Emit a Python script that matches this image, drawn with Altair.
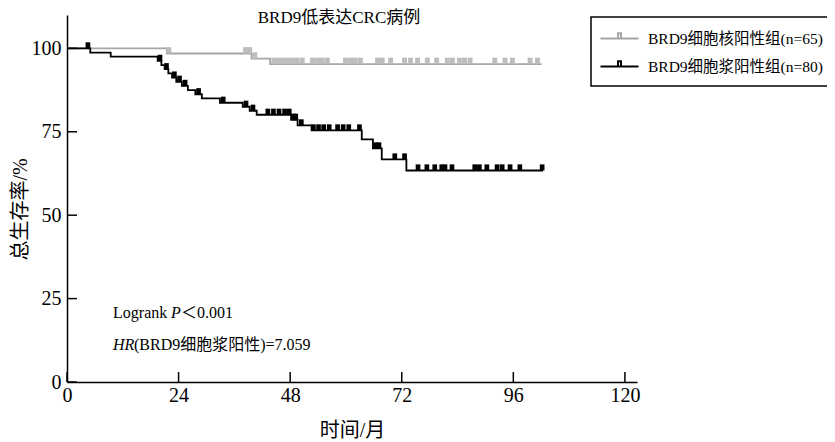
import altair as alt
import pandas as pd

# ---------------- data ----------------
LAB_NUC = "BRD9细胞核阳性组(n=65)"
LAB_CYT = "BRD9细胞浆阳性组(n=80)"

# nuclear-positive group (grey): step curve
nuc_time = [0, 21.5, 39.7, 43.7, 102.1]
nuc_surv = [100, 98.46, 96.92, 95.3, 95.3]
nuc_cens = [21.9, 38.4, 39.3, 40.4, 44.5, 45.5, 46.5, 47.5, 48.5, 49.5, 50.6,
            52.8, 53.9, 54.9, 56.0, 59.9, 61.0, 62.0, 63.1, 66.8, 67.8, 69.6,
            72.6, 73.9, 75.4, 77.5, 79.5, 81.8, 82.9, 84.4, 85.5, 86.7, 92.0,
            94.2, 95.8, 99.6, 101.2]

# cytoplasm-positive group (black): step curve
cyt_time = [0, 5.0, 9.4, 19.5, 20.3, 21.0, 21.8, 22.6, 23.5, 24.7, 26.0, 27.6,
            29.0, 32.9, 37.8, 39.3, 40.8, 48.2, 49.6, 52.6, 63.4, 65.8, 67.7,
            73.0, 102.4]
cyt_surv = [100, 98.75, 97.5, 96.25, 95.0, 93.75, 92.5, 91.25, 90.0, 88.75,
            87.5, 86.25, 85.0, 83.7, 82.5, 81.3, 80.1, 78.6, 76.9, 75.4, 72.7,
            70.0, 66.7, 63.4, 63.4]
cyt_cens = [4.5, 20.0, 21.4, 23.1, 24.2, 25.4, 28.3, 33.6, 38.5, 40.0, 43.2,
            44.4, 45.6, 46.8, 47.8, 48.7, 49.2, 50.4, 53.0, 54.1, 55.2, 56.4,
            58.2, 59.4, 60.6, 62.9, 66.4, 67.1, 70.5, 72.6, 75.5, 77.4, 79.1,
            80.6, 81.3, 82.8, 87.7, 88.7, 90.3, 92.5, 93.6, 95.3, 97.4, 102.2]

x_ticks = [0, 24, 48, 72, 96, 120]
y_ticks = [0, 25, 50, 75, 100]

TITLE = "BRD9低表达CRC病例"
X_TITLE = "时间/月"
Y_TITLE = "总生存率/%"


def surv_at(times, surv, t):
    s = surv[0]
    for ti, si in zip(times, surv):
        if ti <= t:
            s = si
    return s


# ---------------- layout / style ----------------
W, H = 570, 367
XMAX, YMAX = 122.6, 110
FONT = "'Liberation Serif', 'Noto Sans CJK SC', serif"
GREY_LINE = "#a6a6a6"
GREY_TICK = "#bdbdbd"

xs = alt.Scale(domain=[0, XMAX], nice=False, zero=False)
ys = alt.Scale(domain=[0, YMAX], nice=False)

curve_df = pd.DataFrame({
    "t": nuc_time + cyt_time,
    "s": nuc_surv + cyt_surv,
    "g": [LAB_NUC] * len(nuc_time) + [LAB_CYT] * len(cyt_time),
})

nuc_c = pd.DataFrame({"t": nuc_cens, "s": [surv_at(nuc_time, nuc_surv, t) for t in nuc_cens]})
cyt_c = pd.DataFrame({"t": cyt_cens, "s": [surv_at(cyt_time, cyt_surv, t) for t in cyt_cens]})

CENSOR_SHAPE = "M-1,-2.6L1,-2.6L1,0L-1,0Z"
LEGEND_SHAPE = "M-2,0L2,0M-0.16,0L-0.16,-0.55L0.16,-0.55L0.16,0Z"

lines = alt.Chart(curve_df).mark_line(interpolate="step-after", strokeWidth=1.8).encode(
    x=alt.X("t:Q", scale=xs, title=X_TITLE,
            axis=alt.Axis(values=x_ticks, labelFlush=False, labelPadding=3,
                          titleY=48, titleBaseline="middle")),
    y=alt.Y("s:Q", scale=ys, title=Y_TITLE,
            axis=alt.Axis(values=y_ticks, labelPadding=6, titleAngle=270,
                          titleX=-47, titleY=194, titleBaseline="middle",
                          titleAlign="center")),
    color=alt.Color("g:N",
                    scale=alt.Scale(domain=[LAB_NUC, LAB_CYT], range=[GREY_LINE, "#000000"]),
                    legend=alt.Legend(title=None, orient="none", legendX=524, legendY=2,
                                      strokeColor="black", padding=11,
                                      symbolType=LEGEND_SHAPE, symbolSize=361,
                                      symbolOffset=7, symbolStrokeWidth=2,
                                      labelFont=FONT, labelFontSize=15.5,
                                      labelColor="black", labelOffset=18,
                                      rowPadding=9, labelLimit=400)),
)

nuc_pts = alt.Chart(nuc_c).mark_point(shape=CENSOR_SHAPE, filled=True, size=24,
                                      opacity=1, strokeWidth=0, color=GREY_TICK).encode(
    x=alt.X("t:Q", scale=xs), y=alt.Y("s:Q", scale=ys))
cyt_pts = alt.Chart(cyt_c).mark_point(shape=CENSOR_SHAPE, filled=True, size=22,
                                      opacity=1, strokeWidth=0, color="#000000").encode(
    x=alt.X("t:Q", scale=xs), y=alt.Y("s:Q", scale=ys))

# inward tick marks
xt = alt.Chart(pd.DataFrame({"t": x_ticks})).mark_rule(color="black", strokeWidth=1.5).encode(
    x=alt.X("t:Q", scale=xs), y=alt.value(H), y2=alt.value(H - 10))
yt = alt.Chart(pd.DataFrame({"s": y_ticks})).mark_rule(color="black", strokeWidth=1.5).encode(
    y=alt.Y("s:Q", scale=ys), x=alt.value(0), x2=alt.value(10))


def txt(t, s, text, **kw):
    df = pd.DataFrame({"t": [t], "s": [s], "text": [text]})
    return alt.Chart(df).mark_text(font=FONT, color="black", baseline="middle", **kw).encode(
        x=alt.X("t:Q", scale=xs), y=alt.Y("s:Q", scale=ys), text="text:N")


title_t = txt(58.5, 109.1, TITLE, fontSize=17, align="center")
lr1 = txt(9.9, 20.7, "Logrank ", fontSize=16, align="left")
lr2 = txt(9.9, 20.7, "P", fontSize=16, align="left", fontStyle="italic", dx=58)
lr3 = txt(9.9, 20.7, "＜0.001", fontSize=16, align="left", dx=68)
hr1 = txt(9.9, 11.1, "HR", fontSize=16, align="left", fontStyle="italic")
hr2 = txt(9.9, 11.1, "(BRD9细胞浆阳性)=7.059", fontSize=16, align="left", dx=21)

chart = alt.layer(lines, nuc_pts, cyt_pts, xt, yt, title_t, lr1, lr2, lr3, hr1, hr2).properties(
    width=W, height=H,
    autosize=alt.AutoSizeParams(type="none"),
    padding={"left": 59, "top": 7, "right": 190, "bottom": 62},
).configure_axis(
    grid=False, domainColor="black", domainWidth=1.5, ticks=False, tickSize=0,
    labelFont=FONT, labelFontSize=20, labelColor="black",
    titleFont=FONT, titleFontSize=20, titleFontWeight="normal", titleColor="black",
).configure_legend(
    strokeWidth=1.5,
).configure_view(stroke="transparent")

chart.save("out.html", embed_options={"renderer": "svg", "actions": False})
